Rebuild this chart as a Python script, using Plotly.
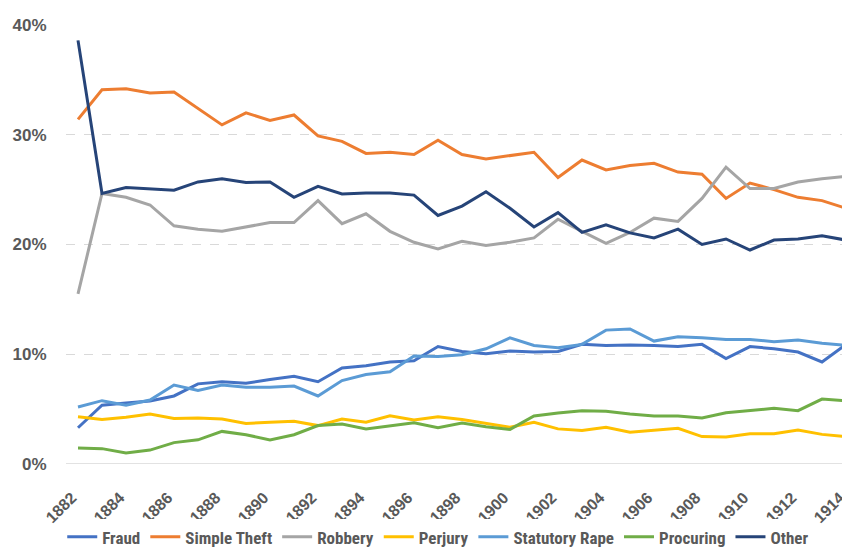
import plotly.graph_objects as go

years = list(range(1882, 1915))

fraud = [3.3, 5.35, 5.55, 5.75, 6.2, 7.3, 7.5, 7.35, 7.7, 8.0, 7.5, 8.75, 8.95, 9.3, 9.4, 10.7, 10.25, 10.05, 10.3, 10.2, 10.25, 10.9, 10.8, 10.85, 10.8, 10.7, 10.9, 9.6, 10.7, 10.5, 10.2, 9.3, 10.9]
simple_theft = [31.4, 34.1, 34.2, 33.8, 33.9, 32.4, 30.9, 32.0, 31.3, 31.8, 29.9, 29.4, 28.3, 28.4, 28.2, 29.5, 28.2, 27.8, 28.1, 28.4, 26.1, 27.7, 26.8, 27.2, 27.4, 26.6, 26.4, 24.2, 25.6, 25.0, 24.3, 24.0, 23.3]
robbery = [15.5, 24.65, 24.3, 23.6, 21.7, 21.4, 21.2, 21.6, 22.0, 22.0, 24.0, 21.9, 22.8, 21.2, 20.2, 19.6, 20.3, 19.9, 20.2, 20.6, 22.3, 21.2, 20.1, 21.1, 22.4, 22.1, 24.2, 27.05, 25.1, 25.1, 25.7, 26.0, 26.2]
perjury = [4.3, 4.05, 4.25, 4.55, 4.15, 4.2, 4.1, 3.7, 3.8, 3.9, 3.5, 4.1, 3.8, 4.4, 4.0, 4.3, 4.05, 3.7, 3.35, 3.8, 3.2, 3.05, 3.35, 2.9, 3.05, 3.25, 2.5, 2.45, 2.75, 2.75, 3.1, 2.7, 2.5]
statutory_rape = [5.2, 5.77, 5.35, 5.83, 7.2, 6.7, 7.2, 7.0, 7.0, 7.1, 6.2, 7.6, 8.15, 8.4, 9.85, 9.8, 9.95, 10.5, 11.5, 10.8, 10.6, 10.9, 12.2, 12.3, 11.2, 11.6, 11.5, 11.35, 11.35, 11.15, 11.3, 11.0, 10.8]
procuring = [1.45, 1.4, 1.0, 1.27, 1.95, 2.2, 2.97, 2.67, 2.2, 2.67, 3.5, 3.64, 3.2, 3.5, 3.76, 3.3, 3.73, 3.4, 3.15, 4.37, 4.65, 4.86, 4.8, 4.55, 4.37, 4.37, 4.2, 4.67, 4.86, 5.07, 4.86, 5.92, 5.77]
other = [38.6, 24.65, 25.2, 25.1, 24.95, 25.7, 26.0, 25.65, 25.7, 24.3, 25.3, 24.6, 24.7, 24.7, 24.5, 22.65, 23.5, 24.8, 23.3, 21.6, 22.9, 21.1, 21.8, 21.06, 20.6, 21.4, 20.0, 20.5, 19.5, 20.4, 20.5, 20.8, 20.4]

series = [
    ("Fraud", fraud, "#4472C4"),
    ("Simple Theft", simple_theft, "#ED7D31"),
    ("Robbery", robbery, "#A5A5A5"),
    ("Perjury", perjury, "#FFC000"),
    ("Statutory Rape", statutory_rape, "#5B9BD5"),
    ("Procuring", procuring, "#70AD47"),
    ("Other", other, "#264478"),
]

x_ticks = list(range(1882, 1915, 2))
y_ticks = [0, 10, 20, 30, 40]
y_labels = ["0%", "10%", "20%", "30%", "40%"]

fig = go.Figure()
for name, vals, color in series:
    fig.add_trace(go.Scatter(x=years, y=vals, name="<b>" + name + "</b>", mode="lines",
                             line=dict(color=color, width=3)))

narrow = "Liberation Sans Narrow, Roboto Condensed, Liberation Sans, Arial, sans-serif"
fig.update_layout(
    width=850, height=549,
    margin=dict(l=58, r=0, t=17, b=93),
    plot_bgcolor="white", paper_bgcolor="white",
    font=dict(family=narrow, color="#595959"),
    showlegend=True,
    legend=dict(orientation="h", x=0.47, xanchor="center", y=-0.167, yanchor="middle",
                font=dict(size=17, color="#595959", family=narrow),
                itemwidth=30, tracegroupgap=0),
    xaxis=dict(range=[1881.5, 1914.5], tickmode="array", tickvals=x_ticks,
               ticktext=["<b>%d</b>" % v for v in x_ticks], tickangle=-45,
               showgrid=False, zeroline=False, showline=False, automargin=False,
               tickfont=dict(size=16, color="#595959", family="Liberation Sans, Arial"),
               ticks="outside", ticklen=17, tickcolor="rgba(0,0,0,0)",
               ticklabelshift=-6),
    yaxis=dict(range=[0, 40], tickmode="array", tickvals=y_ticks,
               ticktext=["<b>%s</b>" % t for t in y_labels],
               showgrid=True, gridcolor="#D9D9D9", griddash="dash", gridwidth=1,
               zeroline=False, showline=False, automargin=False,
               tickfont=dict(size=17, color="#595959", family="Liberation Sans, Arial"),
               ticks="outside", ticklen=15, tickcolor="rgba(0,0,0,0)"),
)
fig.add_shape(type="line", xref="paper", yref="y", x0=0, x1=1, y0=0, y1=0,
              line=dict(color="#D9D9D9", width=1.5), layer="below")
fig.write_html("out.html")
